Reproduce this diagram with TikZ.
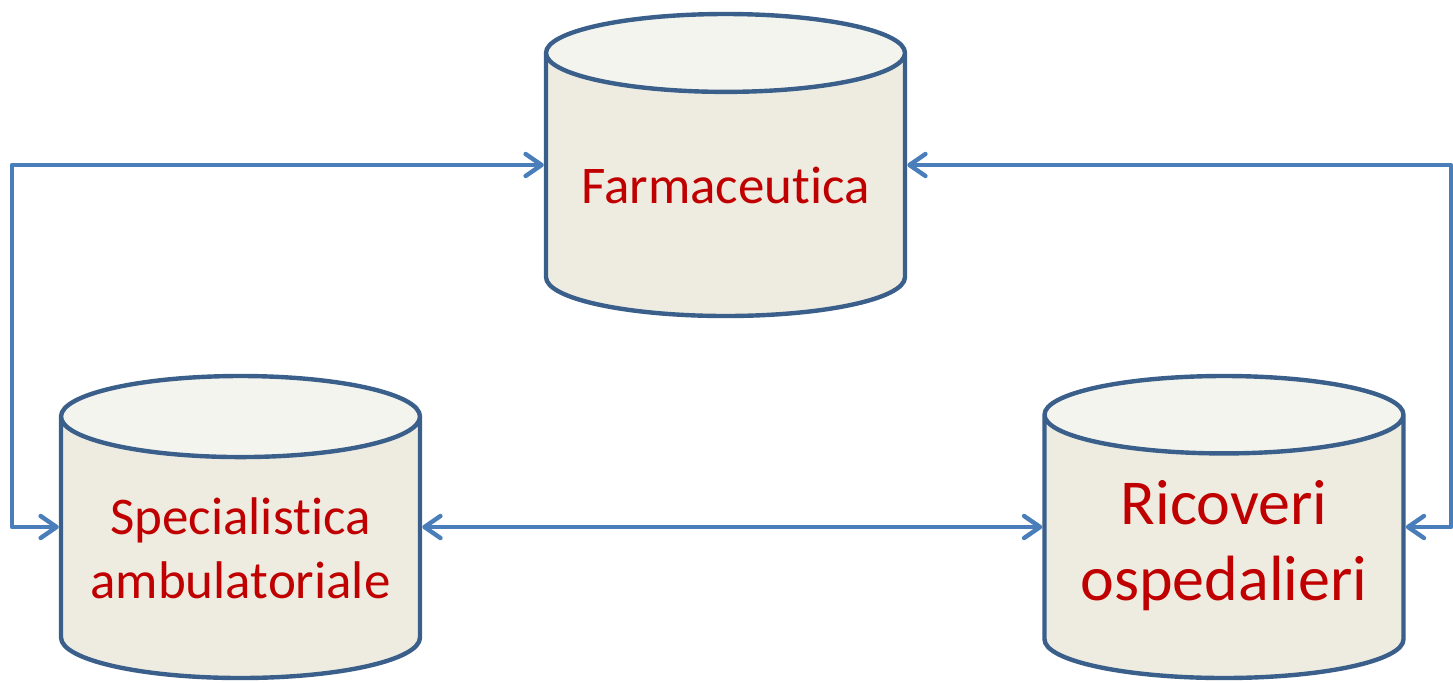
\documentclass[tikz,border=0pt]{standalone}
\usepackage{fontspec}
\setmainfont{Carlito}[Ligatures=NoCommon]
\usetikzlibrary{arrows.meta,shapes.geometric}
\definecolor{dbborder}{HTML}{3A5F8B}
\definecolor{dbbody}{HTML}{EEECE1}
\definecolor{dbtop}{HTML}{F4F4EE}
\definecolor{flowblue}{HTML}{4A7EBB}
\definecolor{labelred}{HTML}{C00000}
\tikzset{
	archive/.style={cylinder, shape border rotate=90, draw=dbborder, line width=2.2pt,
		aspect=0.27, cylinder uses custom fill, cylinder body fill=dbbody, cylinder end fill=dbtop,
		minimum width=179.5pt, minimum height=151pt, inner sep=0pt,
		text=labelred, align=center, anchor=shape center},
	flow/.style={draw=flowblue, line width=2.2pt, line cap=round, line join=round,
		{Straight Barb[length=8pt,width=11pt,round]}-{Straight Barb[length=8pt,width=11pt,round]}}
}

\begin{document}
\begin{tikzpicture}[x=0.5pt, y=-0.5pt]
			%%%%% START %%%%%
			
			\useasboundingbox (0, 0) rectangle (1453, 682);
			
			\node[archive, font=\fontsize{26.5}{32}\selectfont] (farm) at (725.5, 165) {Farmaceutica};
			\node[archive, font=\fontsize{26.5}{32}\selectfont] (spec) at (240.5, 527) {Specialistica\\ambulatoriale};
			\node[archive, font=\fontsize{32}{38}\selectfont] (ric) at (1224, 527)
				{\raisebox{-6pt}{\begin{tabular}{@{}c@{}}Ricoveri\\ospedalieri\end{tabular}}};
			
			\coordinate (lbend) at (12, 0);
			\coordinate (rbend) at (1451, 0);
			
			\draw[flow] (farm.west |- farm.shape center) -- (farm.shape center -| lbend)
				-- (spec.shape center -| lbend) -- (spec.west |- spec.shape center);
			\draw[flow] (farm.east |- farm.shape center) -- (farm.shape center -| rbend)
				-- (ric.shape center -| rbend) -- (ric.east |- ric.shape center);
			\draw[flow] (spec.east |- spec.shape center) -- (ric.west |- ric.shape center);
			
			%%%%% END %%%%%
\end{tikzpicture}
\end{document}
